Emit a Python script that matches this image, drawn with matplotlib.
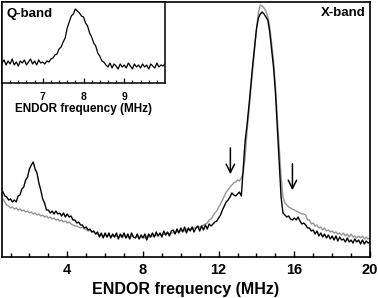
import matplotlib
matplotlib.use('Agg')
import matplotlib.pyplot as plt
import numpy as np

plt.rcParams['font.family'] = ['Liberation Sans', 'DejaVu Sans']
plt.rcParams['font.weight'] = 'bold'

# X-band spectra, sampled every 0.1 MHz from 0.6 to 20.0 MHz
freq_x = np.round(np.arange(0.6, 20.01, 0.1), 2)
xband_black = [
    65, 61, 60, 57, 58, 55, 57, 55, 61, 62,
    68, 70, 77, 80, 88, 92, 95, 88, 84, 74,
    67, 58, 54, 47, 47, 44, 46, 43, 46, 43,
    44, 41, 44, 40, 43, 40, 41, 37, 37, 34,
    35, 32, 32, 29, 30, 27, 28, 25, 26, 23,
    25, 20, 24, 19, 24, 20, 24, 19, 23, 20,
    24, 18, 23, 20, 24, 19, 23, 18, 24, 20,
    19, 23, 18, 22, 19, 23, 17, 23, 20, 24,
    20, 25, 21, 24, 20, 26, 22, 25, 21, 26,
    27, 23, 28, 24, 29, 25, 30, 24, 29, 26,
    30, 25, 29, 31, 26, 31, 27, 32, 28, 33,
    31, 33, 35, 36, 39, 42, 47, 51, 55, 57,
    60, 64, 62, 61, 63, 65, 61, 88, 116, 132,
    151, 172, 192, 210, 228, 239, 243, 245, 243, 240,
    237, 225, 208, 190, 165, 130, 95, 60, 44, 42,
    40, 41, 38, 37, 39, 37, 40, 36, 33, 34,
    32, 29, 29, 26, 27, 23, 26, 21, 24, 20,
    23, 19, 22, 18, 21, 17, 21, 16, 20, 17,
    18, 15, 19, 15, 17, 14, 18, 15, 17, 13,
    17, 13, 16, 14, 15,
]
xband_grey = [
    58, 55, 52, 51, 49, 50, 48, 49, 47, 48,
    46, 47, 45, 46, 44, 45, 43, 44, 42, 43,
    41, 42, 40, 41, 39, 40, 38, 39, 37, 38,
    36, 37, 35, 36, 34, 35, 33, 32, 31, 31,
    30, 29, 30, 28, 28, 26, 27, 25, 25, 23,
    23, 22, 22, 21, 22, 20, 22, 21, 21, 20,
    21, 20, 21, 19, 21, 20, 20, 19, 21, 20,
    19, 21, 19, 20, 20, 19, 21, 20, 20, 21,
    21, 22, 21, 23, 22, 23, 22, 24, 23, 24,
    24, 25, 25, 26, 26, 27, 26, 28, 27, 28,
    28, 29, 29, 30, 30, 31, 32, 33, 34, 37,
    38, 41, 44, 46, 50, 53, 57, 61, 65, 67,
    70, 72, 74, 75, 77, 76, 79, 84, 100, 125,
    146, 168, 188, 208, 228, 244, 252, 251, 249, 246,
    240, 230, 214, 196, 172, 140, 110, 80, 60, 54,
    52, 50, 49, 48, 47, 46, 45, 44, 43, 43,
    42, 37, 37, 33, 34, 31, 32, 29, 30, 27,
    29, 26, 27, 25, 26, 24, 25, 23, 24, 22,
    24, 21, 23, 20, 23, 20, 21, 19, 21, 19,
    21, 18, 20, 18, 19,
]

# Q-band spectrum, every 0.05 MHz from 6 to 10 MHz
freq_q = np.round(np.arange(6.0, 10.001, 0.05), 3)
qband = [
    20, 23, 18, 22, 19, 24, 18, 21, 17, 22,
    20, 23, 18, 21, 24, 19, 22, 18, 23, 20,
    21, 19, 22, 21, 24, 25, 28, 29, 34, 36,
    41, 45, 55, 61, 67, 69, 74, 72, 70, 67,
    66, 60, 57, 50, 46, 40, 37, 30, 27, 22,
    21, 18, 16, 20, 15, 19, 17, 14, 19, 16,
    18, 15, 20, 17, 14, 19, 16, 18, 15, 19,
    16, 18, 14, 19, 17, 15, 20, 16, 18, 17,
    19,
]

# arrows marking the shoulders
arrow_freq = [12.62, 15.9]
arrow_top = [112, 96]
arrow_tip = [80, 64]

fig = plt.figure(figsize=(3.78, 2.98), dpi=100)
ax = fig.add_axes([2/378, 41/298, 368/378, 255/298])
ax.plot(freq_x, xband_grey, color='#959595', lw=1.0)
ax.plot(freq_x, xband_black, color='black', lw=1.0)
ax.set_xlim(0.55, 20)
ax.set_ylim(0, 255)
ax.set_yticks([])
ax.set_xticks([4, 8, 12, 16, 20])
ax.set_xticks(np.arange(1, 20, 1), minor=True)
ax.tick_params(axis='x', which='major', direction='in', length=4.5, width=1.0,
               labelsize=10.5, pad=4)
ax.tick_params(axis='x', which='minor', direction='in', length=3, width=1.0)
for s in ax.spines.values():
    s.set_linewidth(1.2)
for lab in ax.get_xticklabels():
    lab.set_fontweight('bold')
ax.set_xlabel('ENDOR frequency (MHz)', fontsize=11.5, fontweight='bold', labelpad=4)
ax.text(0.987, 0.955, 'X-band', transform=ax.transAxes, ha='right', va='center',
        fontsize=9.5, fontweight='bold')
for f, top, tip in zip(arrow_freq, arrow_top, arrow_tip):
    ax.annotate('', xy=(f, tip), xytext=(f, top),
                arrowprops=dict(arrowstyle='->', color='black', lw=1.1,
                                mutation_scale=15))

ins = fig.add_axes([2/378, 215/298, 163/378, 81/298])
ins.plot(freq_q, qband, color='black', lw=0.9)
ins.set_xlim(6, 10)
ins.set_ylim(0, 81)
ins.set_yticks([])
ins.set_xticks([7, 8, 9])
ins.set_xticks(np.arange(6.2, 10, 0.2), minor=True)
ins.tick_params(axis='x', which='major', direction='in', length=3.5, width=0.9,
                labelsize=7.5, pad=6.5)
ins.tick_params(axis='x', which='minor', direction='in', length=2.2, width=0.9)
for s in ins.spines.values():
    s.set_linewidth(1.1)
for lab in ins.get_xticklabels():
    lab.set_fontweight('bold')
ins.set_xlabel('ENDOR frequency (MHz)', fontsize=8.5, fontweight='bold', labelpad=1)
ins.text(0.03, 0.85, 'Q-band', transform=ins.transAxes, ha='left', va='center',
         fontsize=9.5, fontweight='bold')

fig.savefig('out.png', dpi=100)
